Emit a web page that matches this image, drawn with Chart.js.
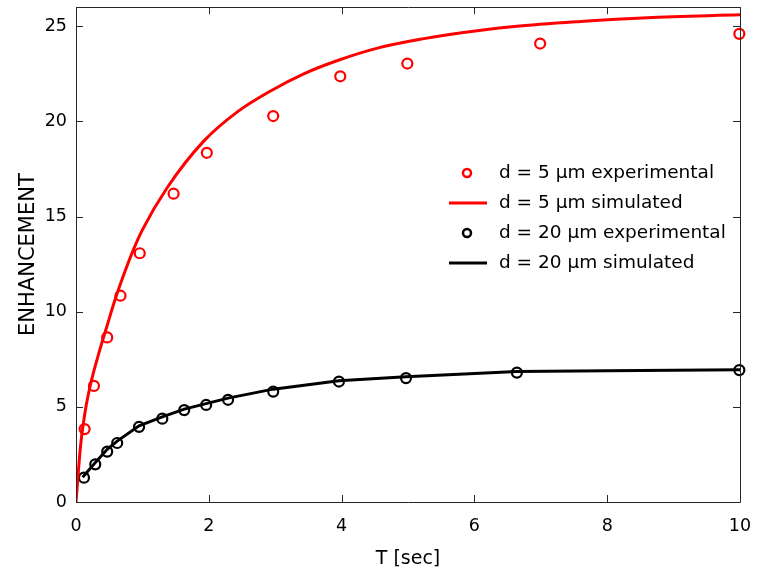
<!DOCTYPE html>
<html>
<head>
<meta charset="utf-8">
<script src="https://cdn.jsdelivr.net/npm/chart.js@4/dist/chart.umd.min.js"></script>
<style>
html,body{margin:0;padding:0;background:#fff;}
canvas{display:block;}
</style>
</head>
<body>
<canvas id="c" width="760" height="573"></canvas>
<script>
// ---- data ----
const seriesLabels = ['d = 5 \u03bcm experimental', 'd = 5 \u03bcm simulated', 'd = 20 \u03bcm experimental', 'd = 20 \u03bcm simulated'];

const redExpT = [0.13, 0.27, 0.47, 0.67, 0.96, 1.47, 1.97, 2.97, 3.98, 4.99, 6.99, 9.99];
const redExpE = [3.83, 6.1, 8.65, 10.84, 13.07, 16.2, 18.35, 20.28, 22.37, 23.04, 24.09, 24.6];

const redSimT = [0, 0.07, 0.14, 0.22, 0.34, 0.46, 0.59, 0.72, 0.87, 1.0, 1.37, 1.92, 2.43, 2.93, 3.43, 3.94, 4.54, 5.24, 5.6, 6.6, 7.6, 8.6, 10];
const redSimE = [0, 3.0, 4.8, 6.2, 7.77, 9.17, 10.65, 11.95, 13.3, 14.3, 16.5, 18.95, 20.5, 21.6, 22.5, 23.2, 23.85, 24.35, 24.55, 24.98, 25.25, 25.45, 25.6];

const blackExpT = [0.12, 0.29, 0.47, 0.62, 0.95, 1.3, 1.63, 1.96, 2.29, 2.97, 3.96, 4.97, 6.64, 9.99];
const blackExpE = [1.28, 1.98, 2.65, 3.1, 3.95, 4.38, 4.83, 5.1, 5.37, 5.8, 6.33, 6.51, 6.8, 6.93];

const blackSimT = [0.1, 0.29, 0.47, 0.62, 0.95, 1.3, 1.63, 1.96, 2.29, 2.97, 3.96, 4.97, 6.64, 8, 10];
const blackSimE = [1.3, 2.07, 2.77, 3.2, 4.0, 4.47, 4.88, 5.17, 5.46, 5.93, 6.37, 6.58, 6.86, 6.9, 6.95];

const xTicks = [0, 2, 4, 6, 8, 10];
const yTicks = [0, 5, 10, 15, 20, 25];
const xTitle = 'T [sec]';
const yTitle = 'ENHANCEMENT';

const pts = (xs, ys) => xs.map((x, i) => ({x: x, y: ys[i]}));
const FONT = 'DejaVu Sans';

// frame with inward ticks on all four sides (MATLAB style)
const framePlugin = {
  id: 'frame',
  afterDatasetsDraw(chart) {
    const {ctx, chartArea: a, scales: {x, y}} = chart;
    const tl = 7;
    ctx.save();
    ctx.strokeStyle = '#262626';
    ctx.lineWidth = 1;
    ctx.beginPath();
    ctx.rect(Math.round(a.left) + 0.5, Math.round(a.top) + 0.5, Math.round(a.right - a.left), Math.round(a.bottom - a.top));
    xTicks.forEach(v => {
      const px = Math.round(x.getPixelForValue(v)) + 0.5;
      ctx.moveTo(px, a.bottom); ctx.lineTo(px, a.bottom - tl);
      ctx.moveTo(px, a.top); ctx.lineTo(px, a.top + tl);
    });
    yTicks.forEach(v => {
      const py = Math.round(y.getPixelForValue(v)) + 0.5;
      ctx.moveTo(a.left, py); ctx.lineTo(a.left + tl, py);
      ctx.moveTo(a.right, py); ctx.lineTo(a.right - tl, py);
    });
    ctx.stroke();
    ctx.restore();
  }
};

// legend inside the plot area
const legendPlugin = {
  id: 'inlegend',
  afterDraw(chart) {
    const {ctx} = chart;
    const x0 = 449, x1 = 487, xm = 467, xt = 499;
    const y0 = 173, dy = 30;
    ctx.save();
    ctx.font = '18.5px "' + FONT + '"';
    ctx.textBaseline = 'middle';
    ctx.textAlign = 'left';
    chart.data.datasets.forEach((ds, i) => {
      const yy = y0 + i * dy;
      ctx.strokeStyle = ds.borderColor;
      if (ds.showLine) {
        ctx.lineWidth = 3;
        ctx.beginPath(); ctx.moveTo(x0, yy); ctx.lineTo(x1, yy); ctx.stroke();
      } else {
        ctx.lineWidth = 2.5;
        ctx.beginPath(); ctx.arc(xm, yy, 4, 0, Math.PI * 2); ctx.stroke();
      }
      ctx.fillStyle = '#000';
      ctx.fillText(ds.label, xt, yy);
    });
    ctx.restore();
  }
};

new Chart(document.getElementById('c'), {
  type: 'scatter',
  data: {
    datasets: [
      {label: seriesLabels[0], data: pts(redExpT, redExpE), showLine: false, borderColor: '#ff0000', backgroundColor: 'rgba(0,0,0,0)', pointRadius: 5, pointBorderWidth: 2.2, clip: false},
      {label: seriesLabels[1], data: pts(redSimT, redSimE), showLine: true, borderColor: '#ff0000', borderWidth: 3, pointRadius: 0, cubicInterpolationMode: 'monotone', fill: false},
      {label: seriesLabels[2], data: pts(blackExpT, blackExpE), showLine: false, borderColor: '#000000', backgroundColor: 'rgba(0,0,0,0)', pointRadius: 5, pointBorderWidth: 2.2, clip: false},
      {label: seriesLabels[3], data: pts(blackSimT, blackSimE), showLine: true, borderColor: '#000000', borderWidth: 3, pointRadius: 0, tension: 0, fill: false}
    ]
  },
  options: {
    responsive: false,
    devicePixelRatio: 1,
    animation: false,
    events: [],
    layout: {padding: {left: 0, right: 20, top: 6, bottom: 0}},
    plugins: {legend: {display: false}, tooltip: {enabled: false}},
    scales: {
      x: {
        type: 'linear', min: 0, max: 10,
        afterBuildTicks: s => { s.ticks = xTicks.map(v => ({value: v})); },
        afterFit: s => { s.height = 71; s.paddingLeft = 0; s.paddingRight = 0; },
        grid: {display: false, drawTicks: false},
        border: {display: false},
        ticks: {padding: 14, color: '#000', font: {family: FONT, size: 17.5}, maxRotation: 0},
        title: {display: true, text: xTitle, color: '#000', font: {family: FONT, size: 19}, padding: {top: 0, bottom: 3}}
      },
      y: {
        type: 'linear', min: 0, max: 26,
        afterBuildTicks: s => { s.ticks = yTicks.map(v => ({value: v})); },
        afterFit: s => { s.width = 76; s.paddingTop = 0; s.paddingBottom = 0; },
        grid: {display: false, drawTicks: false},
        border: {display: false},
        ticks: {padding: 9, color: '#000', font: {family: FONT, size: 17.5}},
        title: {display: true, text: yTitle, color: '#000', font: {family: FONT, size: 21}, padding: {top: 16, bottom: 0}}
      }
    }
  },
  plugins: [framePlugin, legendPlugin]
});
</script>
</body>
</html>
